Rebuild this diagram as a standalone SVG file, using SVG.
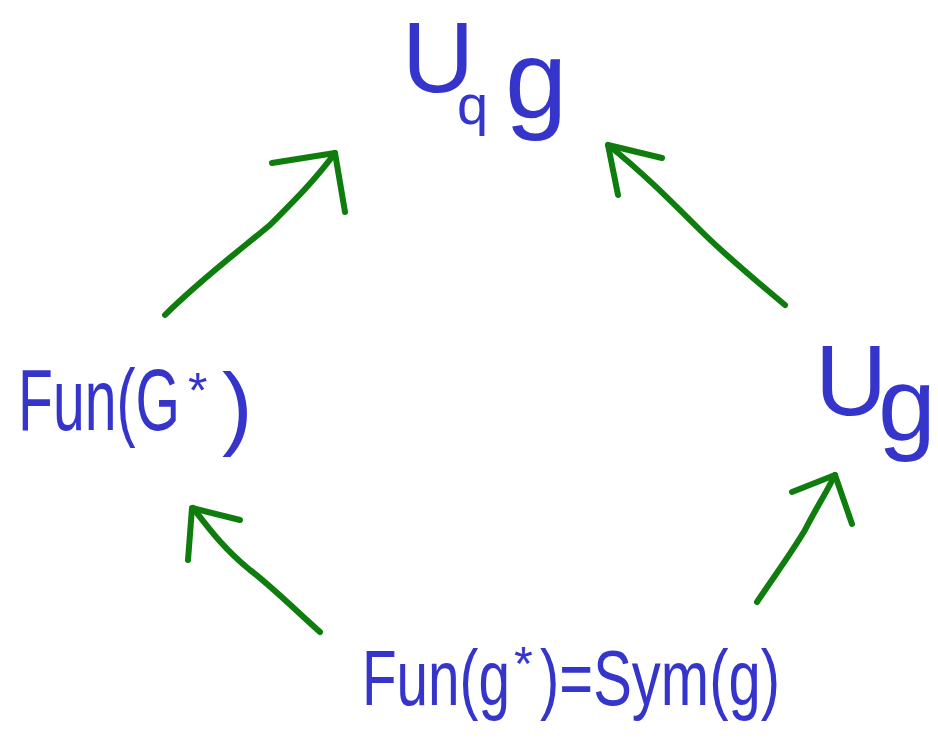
<svg xmlns="http://www.w3.org/2000/svg" width="938" height="738" viewBox="0 0 938 738">
<style>
.t{font-family:"Liberation Sans",Arial,sans-serif;fill:#3535cc}
.a{fill:none;stroke:#0e7d0e;stroke-width:6;stroke-linecap:round;stroke-linejoin:round}
</style>
<rect width="938" height="738" fill="#ffffff"/>
<g id="node-uqg">
<text class="t" x="402" y="92" font-size="100">U</text>
<text class="t" x="457" y="124" font-size="56">q</text>
<text class="t" x="505" y="118" font-size="112">g</text>
</g>
<g id="node-funG">
<text class="t" x="18" y="430" font-size="88" textLength="162" lengthAdjust="spacingAndGlyphs">Fun(G</text>
<text class="t" x="188" y="408" font-size="50">*</text>
<text class="t" x="222" y="438" font-size="92">)</text>
</g>
<g id="node-ug">
<text class="t" x="815" y="415" font-size="100">U</text>
<text class="t" x="878" y="440" font-size="104">g</text>
</g>
<g id="node-sym">
<text class="t" x="362" y="705" font-size="78" textLength="148" lengthAdjust="spacingAndGlyphs">Fun(g</text>
<text class="t" x="514" y="680" font-size="48">*</text>
<text class="t" x="540" y="705" font-size="78" textLength="240" lengthAdjust="spacingAndGlyphs">)=Sym(g)</text>
</g>
<g id="connectors">
<path class="a" d="M320,632 C290,605 270,585 250,570 C225,550 210,530 193,508"/>
<path class="a" d="M188,560 L192,508 L240,520"/>
<path class="a" d="M165,315 C200,280 240,250 270,225 C295,200 315,180 335,153"/>
<path class="a" d="M272,163 L335,153 L345,212"/>
<path class="a" d="M785,305 C755,280 725,255 700,230 C670,200 640,170 608,145"/>
<path class="a" d="M662,158 L608,145 L618,195"/>
<path class="a" d="M757,602 C775,575 790,555 805,530 C815,510 825,495 835,475"/>
<path class="a" d="M792,492 L835,475 L852,524"/>
</g>
</svg>
